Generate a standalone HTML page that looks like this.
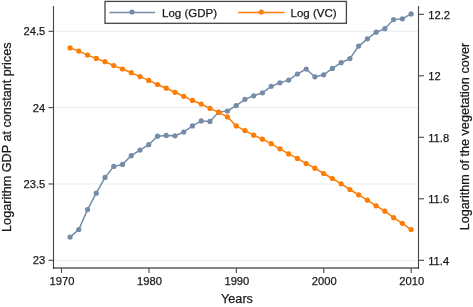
<!DOCTYPE html>
<html><head><meta charset="utf-8"><style>
html,body{margin:0;padding:0;background:#fff;width:473px;height:307px;overflow:hidden}
svg{display:block;will-change:transform}
text{font-family:"Liberation Sans",sans-serif;fill:#1a1a1a;stroke:#1a1a1a;stroke-width:0.25px}
</style></head><body>
<svg width="473" height="307" viewBox="0 0 473 307">
<rect width="473" height="307" fill="#fff"/>
<g stroke="#e3eeef" stroke-width="1.0"><line x1="54" y1="31.3" x2="418" y2="31.3"/><line x1="54" y1="107.63" x2="418" y2="107.63"/><line x1="54" y1="183.97" x2="418" y2="183.97"/><line x1="54" y1="260.3" x2="418" y2="260.3"/></g>
<g stroke="#424549" stroke-width="1.1" fill="none"><line x1="53.5" y1="6" x2="53.5" y2="268.7"/><line x1="418.5" y1="6" x2="418.5" y2="268.7"/><line x1="53" y1="268" x2="419" y2="268" stroke-width="1.2" stroke="#0a0a0a"/><line x1="48.5" y1="31.3" x2="53.5" y2="31.3"/><line x1="48.5" y1="107.63" x2="53.5" y2="107.63"/><line x1="48.5" y1="183.97" x2="53.5" y2="183.97"/><line x1="48.5" y1="260.3" x2="53.5" y2="260.3"/><line x1="418.5" y1="14.3" x2="424" y2="14.3"/><line x1="418.5" y1="75.8" x2="424" y2="75.8"/><line x1="418.5" y1="137.3" x2="424" y2="137.3"/><line x1="418.5" y1="198.8" x2="424" y2="198.8"/><line x1="418.5" y1="260.3" x2="424" y2="260.3"/><line x1="61.50" y1="268" x2="61.50" y2="273"/><line x1="148.93" y1="268" x2="148.93" y2="273"/><line x1="236.36" y1="268" x2="236.36" y2="273"/><line x1="323.79" y1="268" x2="323.79" y2="273"/><line x1="411.22" y1="268" x2="411.22" y2="273"/></g>
<text x="45.3" y="35.30" font-size="11.2" text-anchor="end">24.5</text><text x="45.3" y="111.63" font-size="11.2" text-anchor="end">24</text><text x="45.3" y="187.97" font-size="11.2" text-anchor="end">23.5</text><text x="45.3" y="264.30" font-size="11.2" text-anchor="end">23</text><text x="428.2" y="18.50" font-size="11.2">12.2</text><text x="428.2" y="80.00" font-size="11.2">12</text><text x="428.2" y="141.50" font-size="11.2">11.8</text><text x="428.2" y="203.00" font-size="11.2">11.6</text><text x="428.2" y="264.50" font-size="11.2">11.4</text><text x="62.00" y="284.8" font-size="11.2" text-anchor="middle">1970</text><text x="149.43" y="284.8" font-size="11.2" text-anchor="middle">1980</text><text x="236.86" y="284.8" font-size="11.2" text-anchor="middle">1990</text><text x="324.29" y="284.8" font-size="11.2" text-anchor="middle">2000</text><text x="411.72" y="284.8" font-size="11.2" text-anchor="middle">2010</text>
<text x="237" y="303" font-size="12.65" text-anchor="middle">Years</text><text transform="translate(10.6,137.2) rotate(-90)" font-size="12.65" text-anchor="middle">Logarithm GDP at constant prices</text><text transform="translate(468.7,136.5) rotate(-90)" font-size="12.65" text-anchor="middle">Logarithm of the vegetation cover</text>
<polyline points="70.05,237.10 78.79,229.50 87.53,209.60 96.28,193.20 105.02,177.40 113.77,166.40 122.51,164.40 131.26,155.70 140.00,150.10 148.75,144.70 157.50,136.20 166.24,135.40 174.98,135.80 183.73,132.00 192.47,125.90 201.22,120.90 209.96,121.40 218.71,112.10 227.45,111.00 236.20,105.60 244.94,99.30 253.69,95.80 262.44,92.80 271.18,86.30 279.92,82.80 288.67,80.10 297.41,74.00 306.16,69.10 314.90,76.80 323.65,74.80 332.39,68.40 341.14,62.70 349.88,58.60 358.63,46.10 367.38,38.80 376.12,32.20 384.87,28.70 393.61,19.60 402.35,18.80 411.10,13.90" fill="none" stroke="#758ca8" stroke-width="1.5"/><g fill="#758ca8"><circle cx="70.05" cy="237.10" r="2.6"/><circle cx="78.79" cy="229.50" r="2.6"/><circle cx="87.53" cy="209.60" r="2.6"/><circle cx="96.28" cy="193.20" r="2.6"/><circle cx="105.02" cy="177.40" r="2.6"/><circle cx="113.77" cy="166.40" r="2.6"/><circle cx="122.51" cy="164.40" r="2.6"/><circle cx="131.26" cy="155.70" r="2.6"/><circle cx="140.00" cy="150.10" r="2.6"/><circle cx="148.75" cy="144.70" r="2.6"/><circle cx="157.50" cy="136.20" r="2.6"/><circle cx="166.24" cy="135.40" r="2.6"/><circle cx="174.98" cy="135.80" r="2.6"/><circle cx="183.73" cy="132.00" r="2.6"/><circle cx="192.47" cy="125.90" r="2.6"/><circle cx="201.22" cy="120.90" r="2.6"/><circle cx="209.96" cy="121.40" r="2.6"/><circle cx="218.71" cy="112.10" r="2.6"/><circle cx="227.45" cy="111.00" r="2.6"/><circle cx="236.20" cy="105.60" r="2.6"/><circle cx="244.94" cy="99.30" r="2.6"/><circle cx="253.69" cy="95.80" r="2.6"/><circle cx="262.44" cy="92.80" r="2.6"/><circle cx="271.18" cy="86.30" r="2.6"/><circle cx="279.92" cy="82.80" r="2.6"/><circle cx="288.67" cy="80.10" r="2.6"/><circle cx="297.41" cy="74.00" r="2.6"/><circle cx="306.16" cy="69.10" r="2.6"/><circle cx="314.90" cy="76.80" r="2.6"/><circle cx="323.65" cy="74.80" r="2.6"/><circle cx="332.39" cy="68.40" r="2.6"/><circle cx="341.14" cy="62.70" r="2.6"/><circle cx="349.88" cy="58.60" r="2.6"/><circle cx="358.63" cy="46.10" r="2.6"/><circle cx="367.38" cy="38.80" r="2.6"/><circle cx="376.12" cy="32.20" r="2.6"/><circle cx="384.87" cy="28.70" r="2.6"/><circle cx="393.61" cy="19.60" r="2.6"/><circle cx="402.35" cy="18.80" r="2.6"/><circle cx="411.10" cy="13.90" r="2.6"/></g>
<polyline points="70.05,47.90 78.79,51.10 87.53,55.10 96.28,58.40 105.02,61.70 113.77,65.60 122.51,69.00 131.26,72.70 140.00,76.60 148.75,80.40 157.50,84.50 166.24,88.20 174.98,92.30 183.73,96.30 192.47,100.40 201.22,104.00 209.96,108.40 218.71,112.40 227.45,116.90 236.20,125.90 244.94,130.60 253.69,135.20 262.44,139.20 271.18,143.70 279.92,148.80 288.67,153.90 297.41,158.40 306.16,163.60 314.90,168.20 323.65,173.50 332.39,178.50 341.14,183.80 349.88,189.50 358.63,194.80 367.38,200.20 376.12,205.80 384.87,211.20 393.61,217.70 402.35,223.30 411.10,229.60" fill="none" stroke="#fd7c06" stroke-width="1.5"/><g fill="#fd7c06"><circle cx="70.05" cy="47.90" r="2.6"/><circle cx="78.79" cy="51.10" r="2.6"/><circle cx="87.53" cy="55.10" r="2.6"/><circle cx="96.28" cy="58.40" r="2.6"/><circle cx="105.02" cy="61.70" r="2.6"/><circle cx="113.77" cy="65.60" r="2.6"/><circle cx="122.51" cy="69.00" r="2.6"/><circle cx="131.26" cy="72.70" r="2.6"/><circle cx="140.00" cy="76.60" r="2.6"/><circle cx="148.75" cy="80.40" r="2.6"/><circle cx="157.50" cy="84.50" r="2.6"/><circle cx="166.24" cy="88.20" r="2.6"/><circle cx="174.98" cy="92.30" r="2.6"/><circle cx="183.73" cy="96.30" r="2.6"/><circle cx="192.47" cy="100.40" r="2.6"/><circle cx="201.22" cy="104.00" r="2.6"/><circle cx="209.96" cy="108.40" r="2.6"/><circle cx="218.71" cy="112.40" r="2.6"/><circle cx="227.45" cy="116.90" r="2.6"/><circle cx="236.20" cy="125.90" r="2.6"/><circle cx="244.94" cy="130.60" r="2.6"/><circle cx="253.69" cy="135.20" r="2.6"/><circle cx="262.44" cy="139.20" r="2.6"/><circle cx="271.18" cy="143.70" r="2.6"/><circle cx="279.92" cy="148.80" r="2.6"/><circle cx="288.67" cy="153.90" r="2.6"/><circle cx="297.41" cy="158.40" r="2.6"/><circle cx="306.16" cy="163.60" r="2.6"/><circle cx="314.90" cy="168.20" r="2.6"/><circle cx="323.65" cy="173.50" r="2.6"/><circle cx="332.39" cy="178.50" r="2.6"/><circle cx="341.14" cy="183.80" r="2.6"/><circle cx="349.88" cy="189.50" r="2.6"/><circle cx="358.63" cy="194.80" r="2.6"/><circle cx="367.38" cy="200.20" r="2.6"/><circle cx="376.12" cy="205.80" r="2.6"/><circle cx="384.87" cy="211.20" r="2.6"/><circle cx="393.61" cy="217.70" r="2.6"/><circle cx="402.35" cy="223.30" r="2.6"/><circle cx="411.10" cy="229.60" r="2.6"/></g>
<rect x="105" y="1.4" width="241.4" height="21.9" fill="#fff" stroke="#424549" stroke-width="1.3"/><line x1="109.4" y1="12.4" x2="155.1" y2="12.4" stroke="#758ca8" stroke-width="1.5"/><circle cx="132" cy="12" r="2.6" fill="#758ca8"/><text x="162" y="16.8" font-size="11.5">Log (GDP)</text><line x1="238.2" y1="12.4" x2="284.6" y2="12.4" stroke="#fd7c06" stroke-width="1.5"/><circle cx="261.3" cy="12" r="2.6" fill="#fd7c06"/><text x="290.5" y="16.8" font-size="11.5">Log (VC)</text>
</svg>
</body></html>
